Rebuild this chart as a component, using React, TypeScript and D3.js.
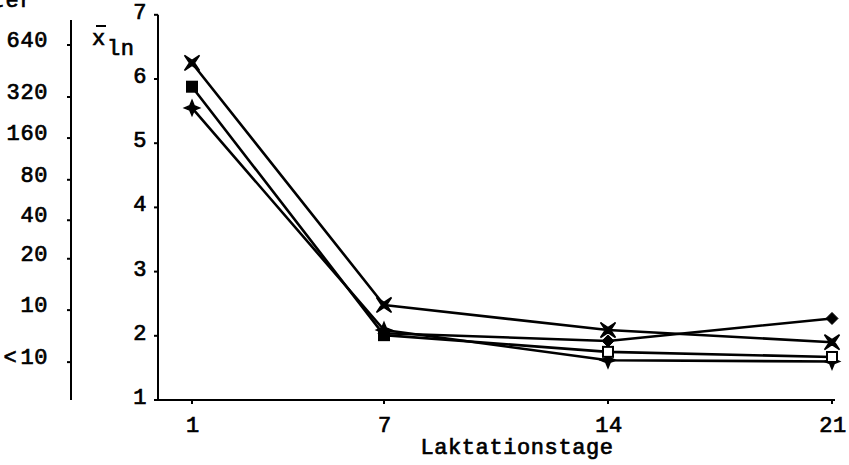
import React from "react";
import * as d3 from "d3";

// Laktationstage (days of lactation)
const days = [1, 7, 14, 21];

// Mean log titer (x̄ ln) per series
const seriesCross = [6.25, 2.48, 2.09, 1.9];
const seriesSquare = [5.88, 2.01, 1.75, 1.67];
const squareFilled = [true, true, false, false];
const seriesStar = [5.55, 2.09, 1.62, 1.6];
const seriesDiamond: (number | null)[] = [null, 2.04, 1.92, 2.27];

// Right axis ticks (x̄ ln)
const lnTicks = [1, 2, 3, 4, 5, 6, 7];

// Left axis: titer labels and the x̄ ln level each sits at
const titerLabels = ["640", "320", "160", "80", "40", "20", "10", "<10"];
const titerLevels = [6.53, 5.72, 5.08, 4.43, 3.8, 3.2, 2.4, 1.59];

const W = 849;
const H = 465;
const FONT = "'Liberation Mono', 'DejaVu Sans Mono', monospace";

const crossPath = "M-7.5,-7.5 L0,-2.5 L7.5,-7.5 L2.5,0 L7.5,7.5 L0,2.5 L-7.5,7.5 L-2.5,0 Z";
const starPath = "M0,-7.5 L2.2,-2.2 L7.5,0 L2.2,2.2 L0,7.5 L-2.2,2.2 L-7.5,0 L-2.2,-2.2 Z";
const diamondPath = "M0,-6 L6,0 L0,6 L-6,0 Z";

export default function App() {
  const x = d3.scaleLinear().domain([1, 21]).range([192, 832]);
  const y = d3.scaleLinear().domain([1, 7]).range([400, 14.8]);

  const line = d3
    .line<number | null>()
    .defined((d) => d != null)
    .x((_, i) => x(days[i]))
    .y((d) => y(d as number));

  const textStyle = {
    fontFamily: FONT,
    fontSize: 22,
    fontWeight: 400,
    letterSpacing: 0.6,
    fill: "#000",
    stroke: "#000",
    strokeWidth: 0.7,
  } as const;

  const axisX0 = 158;
  const titerX = 71;

  return (
    <svg
      width={W}
      height={H}
      style={{ position: "absolute", left: 0, top: 0, background: "#fff" }}
    >
      <rect width={W} height={H} fill="#fff" />

      {/* Titer axis title, running off the top-left corner */}
      <text x={33} y={7} textAnchor="end" {...textStyle}>
        Titer
      </text>

      {/* Left titer axis */}
      <line x1={titerX} x2={titerX} y1={20} y2={400} stroke="#000" strokeWidth={2} />
      {titerLabels.map((lab, i) => (
        <g key={lab}>
          <line
            x1={titerX - 4}
            x2={titerX}
            y1={y(titerLevels[i])}
            y2={y(titerLevels[i])}
            stroke="#000"
            strokeWidth={2}
          />
          <text x={48} y={y(titerLevels[i]) + 2} textAnchor="end" {...textStyle}>
            {lab.startsWith("<") ? (
              <>
                <tspan>{"<"}</tspan>
                <tspan dx={3}>{lab.slice(1)}</tspan>
              </>
            ) : (
              lab
            )}
          </text>
        </g>
      ))}

      {/* x̄ ln label */}
      <text x={92} y={45} {...textStyle}>
        x
      </text>
      <line x1={96} x2={106} y1={26} y2={26} stroke="#000" strokeWidth={2} />
      <text x={107} y={55} {...textStyle}>
        ln
      </text>

      {/* Right value axis */}
      <line x1={axisX0} x2={axisX0} y1={y(7)} y2={400} stroke="#000" strokeWidth={2} />
      {lnTicks.map((t) => (
        <g key={t}>
          <line x1={axisX0 - 4} x2={axisX0} y1={y(t)} y2={y(t)} stroke="#000" strokeWidth={2} />
          <text x={147} y={y(t) + 4} textAnchor="end" {...textStyle}>
            {t}
          </text>
        </g>
      ))}

      {/* X axis */}
      <line x1={155} x2={835} y1={400} y2={400} stroke="#000" strokeWidth={2} />
      {days.map((d) => (
        <g key={d}>
          <line x1={x(d)} x2={x(d)} y1={400} y2={404} stroke="#000" strokeWidth={2} />
          <text x={x(d) + 1} y={432} textAnchor="middle" {...textStyle}>
            {d}
          </text>
        </g>
      ))}
      <text x={517} y={454} textAnchor="middle" {...textStyle}>
        Laktationstage
      </text>

      {/* Series lines */}
      {[seriesCross, seriesSquare, seriesStar, seriesDiamond].map((s, i) => (
        <path
          key={i}
          d={line(s) || ""}
          fill="none"
          stroke="#000"
          strokeWidth={2.6}
          strokeLinejoin="round"
        />
      ))}

      {/* Markers */}
      {seriesCross.map((v, i) => (
        <path key={"c" + i} d={crossPath} transform={`translate(${x(days[i])},${y(v)})`} fill="#000" stroke="#000" strokeWidth={1.5} />
      ))}
      {seriesStar.map((v, i) => (
        <path key={"s" + i} d={starPath} transform={`translate(${x(days[i])},${y(v)})`} fill="#000" stroke="#000" strokeWidth={1.5} />
      ))}
      {seriesDiamond.map((v, i) =>
        v == null ? null : (
          <path key={"d" + i} d={diamondPath} transform={`translate(${x(days[i])},${y(v)})`} fill="#000" stroke="#000" strokeWidth={1} />
        )
      )}
      {seriesSquare.map((v, i) => (
        <rect
          key={"q" + i}
          x={x(days[i]) - 5}
          y={y(v) - 5}
          width={10}
          height={10}
          fill={squareFilled[i] ? "#000" : "#fff"}
          stroke="#000"
          strokeWidth={2}
        />
      ))}
    </svg>
  );
}
